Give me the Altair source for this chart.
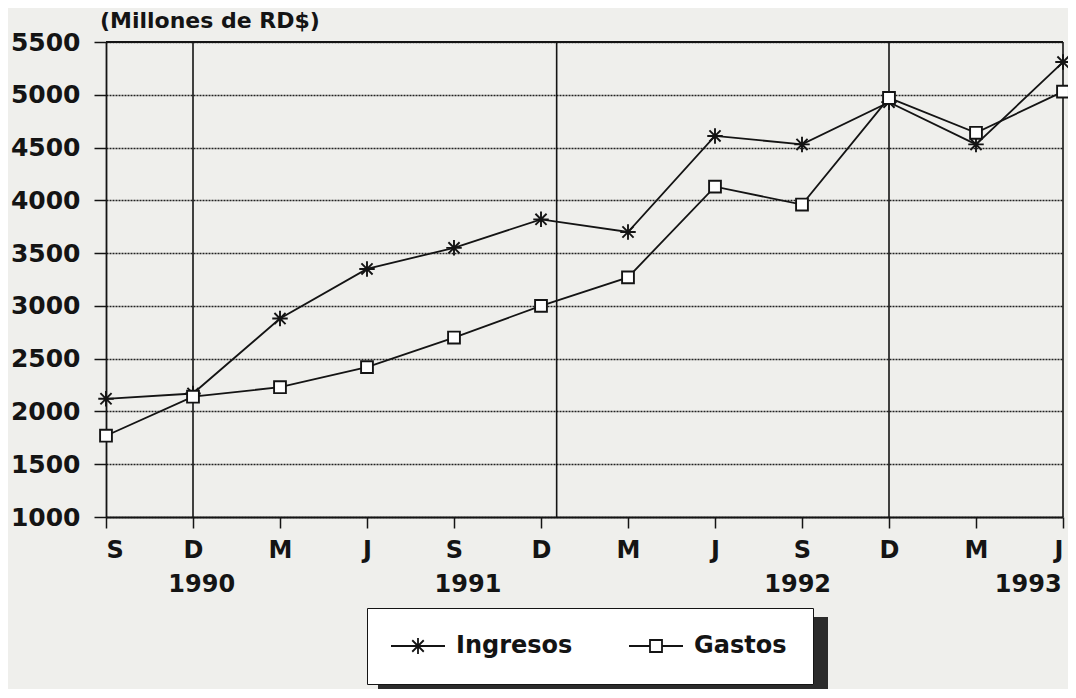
import json
import altair as alt
import pandas as pd

# ---- data ----
months = ["S", "D", "M", "J", "S", "D", "M", "J", "S", "D", "M", "J"]
ingresos = [2120, 2170, 2880, 3350, 3550, 3820, 3700, 4610, 4530, 4930, 4530, 5310]
gastos = [1770, 2140, 2230, 2420, 2700, 3000, 3270, 4130, 3960, 4970, 4640, 5030]
series_names = ["Ingresos", "Gastos"]
years = ["1990", "1991", "1992", "1993"]
year_pos = [1.10, 4.16, 7.95, 10.6]
dividers = [1, 5.18, 9, 11]
y_ticks = [1000, 1500, 2000, 2500, 3000, 3500, 4000, 4500, 5000, 5500]

FONT = "DejaVu Sans"
INK = "#141414"

rows = []
for i, m in enumerate(months):
    rows.append({"idx": i, "value": ingresos[i], "series": "Ingresos"})
    rows.append({"idx": i, "value": gastos[i], "series": "Gastos"})
df = pd.DataFrame(rows)

years_df = pd.DataFrame({"year": years, "pos": year_pos})
div_df = pd.DataFrame({"pos": dividers})
top_df = pd.DataFrame({"v": [5500]})

star = "M0,-1L0,1M-1,0L1,0M-0.72,-0.72L0.72,0.72M-0.72,0.72L0.72,-0.72"
# legend symbols: unit = sqrt(symbolSize)/2 = 8 px
star_leg = "M-3.375,0L3.375,0M0,-1L0,1M-0.72,-0.72L0.72,0.72M-0.72,0.72L0.72,-0.72"
square_leg = "M-3.375,0L-0.75,0M0.75,0L3.375,0M-0.75,-0.75L0.75,-0.75L0.75,0.75L-0.75,0.75Z"

xscale = alt.Scale(domain=[0, 11], nice=False, zero=False)
yscale = alt.Scale(domain=[1000, 5500], nice=False, zero=False)

label_expr = json.dumps(months) + "[datum.value]"

x_axis = alt.Axis(values=list(range(12)), labelExpr=label_expr, title=None,
                  tickSize=11, labelPadding=10, grid=False,
                  labelFont=FONT, labelFontSize=24, labelFontWeight="bold",
                  labelColor=INK, tickColor=INK, tickWidth=1.5,
                  domainColor=INK, domainWidth=1.8)
y_axis = alt.Axis(values=y_ticks, format="d", title=None, tickSize=12, labelPadding=14,
                  labelFont=FONT, labelFontSize=25, labelFontWeight="bold",
                  labelColor=INK, tickColor=INK, tickWidth=1.5,
                  domainColor=INK, domainWidth=1.8,
                  grid=True, gridDash=[2, 1], gridColor="#222222", gridWidth=1.6)

base = alt.Chart(df)

lines = base.mark_line(color=INK, strokeWidth=1.8).encode(
    x=alt.X("idx:Q", scale=xscale, axis=x_axis),
    y=alt.Y("value:Q", scale=yscale, axis=y_axis),
    detail="series:N",
)

points = base.mark_point(filled=True, stroke=INK, strokeWidth=1.9, opacity=1).encode(
    x=alt.X("idx:Q", scale=xscale),
    y=alt.Y("value:Q", scale=yscale),
    shape=alt.Shape("series:N", scale=alt.Scale(domain=series_names, range=[star, "square"]), legend=None),
    fill=alt.Fill("series:N", scale=alt.Scale(domain=series_names, range=[INK, "white"]), legend=None),
    size=alt.Size("series:N", scale=alt.Scale(domain=series_names, range=[240, 140]), legend=None),
)

legend_layer = base.transform_filter("false").mark_point(
    filled=False, stroke=INK, strokeWidth=1.8, opacity=1
).encode(
    shape=alt.Shape(
        "series:N",
        scale=alt.Scale(domain=series_names, range=[star_leg, square_leg]),
        legend=alt.Legend(
            title=None, orient="none", legendX=261, legendY=566, direction="horizontal",
            symbolSize=256, symbolStrokeWidth=1.8, symbolStrokeColor=INK,
            symbolOpacity=1, symbolOffset=13,
            labelFont=FONT, labelFontSize=24, labelFontWeight="bold", labelColor=INK,
            labelOffset=26, columnPadding=52, padding=26,
            strokeColor=INK, fillColor="white",
        ),
    )
)

div_rules = alt.Chart(div_df).mark_rule(color=INK, strokeWidth=1.6).encode(
    x=alt.X("pos:Q", scale=xscale)
)
top_rule = alt.Chart(top_df).mark_rule(color=INK, strokeWidth=1.8).encode(
    y=alt.Y("v:Q", scale=yscale)
)

year_text = alt.Chart(years_df).mark_text(
    font=FONT, fontSize=24, fontWeight="bold", color=INK, baseline="middle"
).encode(x=alt.X("pos:Q", scale=xscale), y=alt.value(543), text="year:N")

shadow = alt.Chart(top_df).mark_rect(color="#2b2b2b").encode(
    x=alt.value(272), x2=alt.value(722), y=alt.value(575), y2=alt.value(670)
)

chart = alt.layer(
    div_rules, top_rule, lines, points, year_text, shadow, legend_layer
).resolve_scale(shape="independent").resolve_legend(shape="independent").properties(
    width=957, height=475,
    autosize=alt.AutoSizeParams(type="none"),
    padding={"left": 98, "top": 34, "right": 5, "bottom": 172},
    background="#efefec",
    title=alt.Title("(Millones de RD$)", anchor="start", frame="group", dx=-6, dy=15, offset=12,
                    font=FONT, fontSize=22, fontWeight="bold", color=INK),
).configure_view(stroke=None)

chart.save("out.html", embed_options={"renderer": "svg", "actions": False})
